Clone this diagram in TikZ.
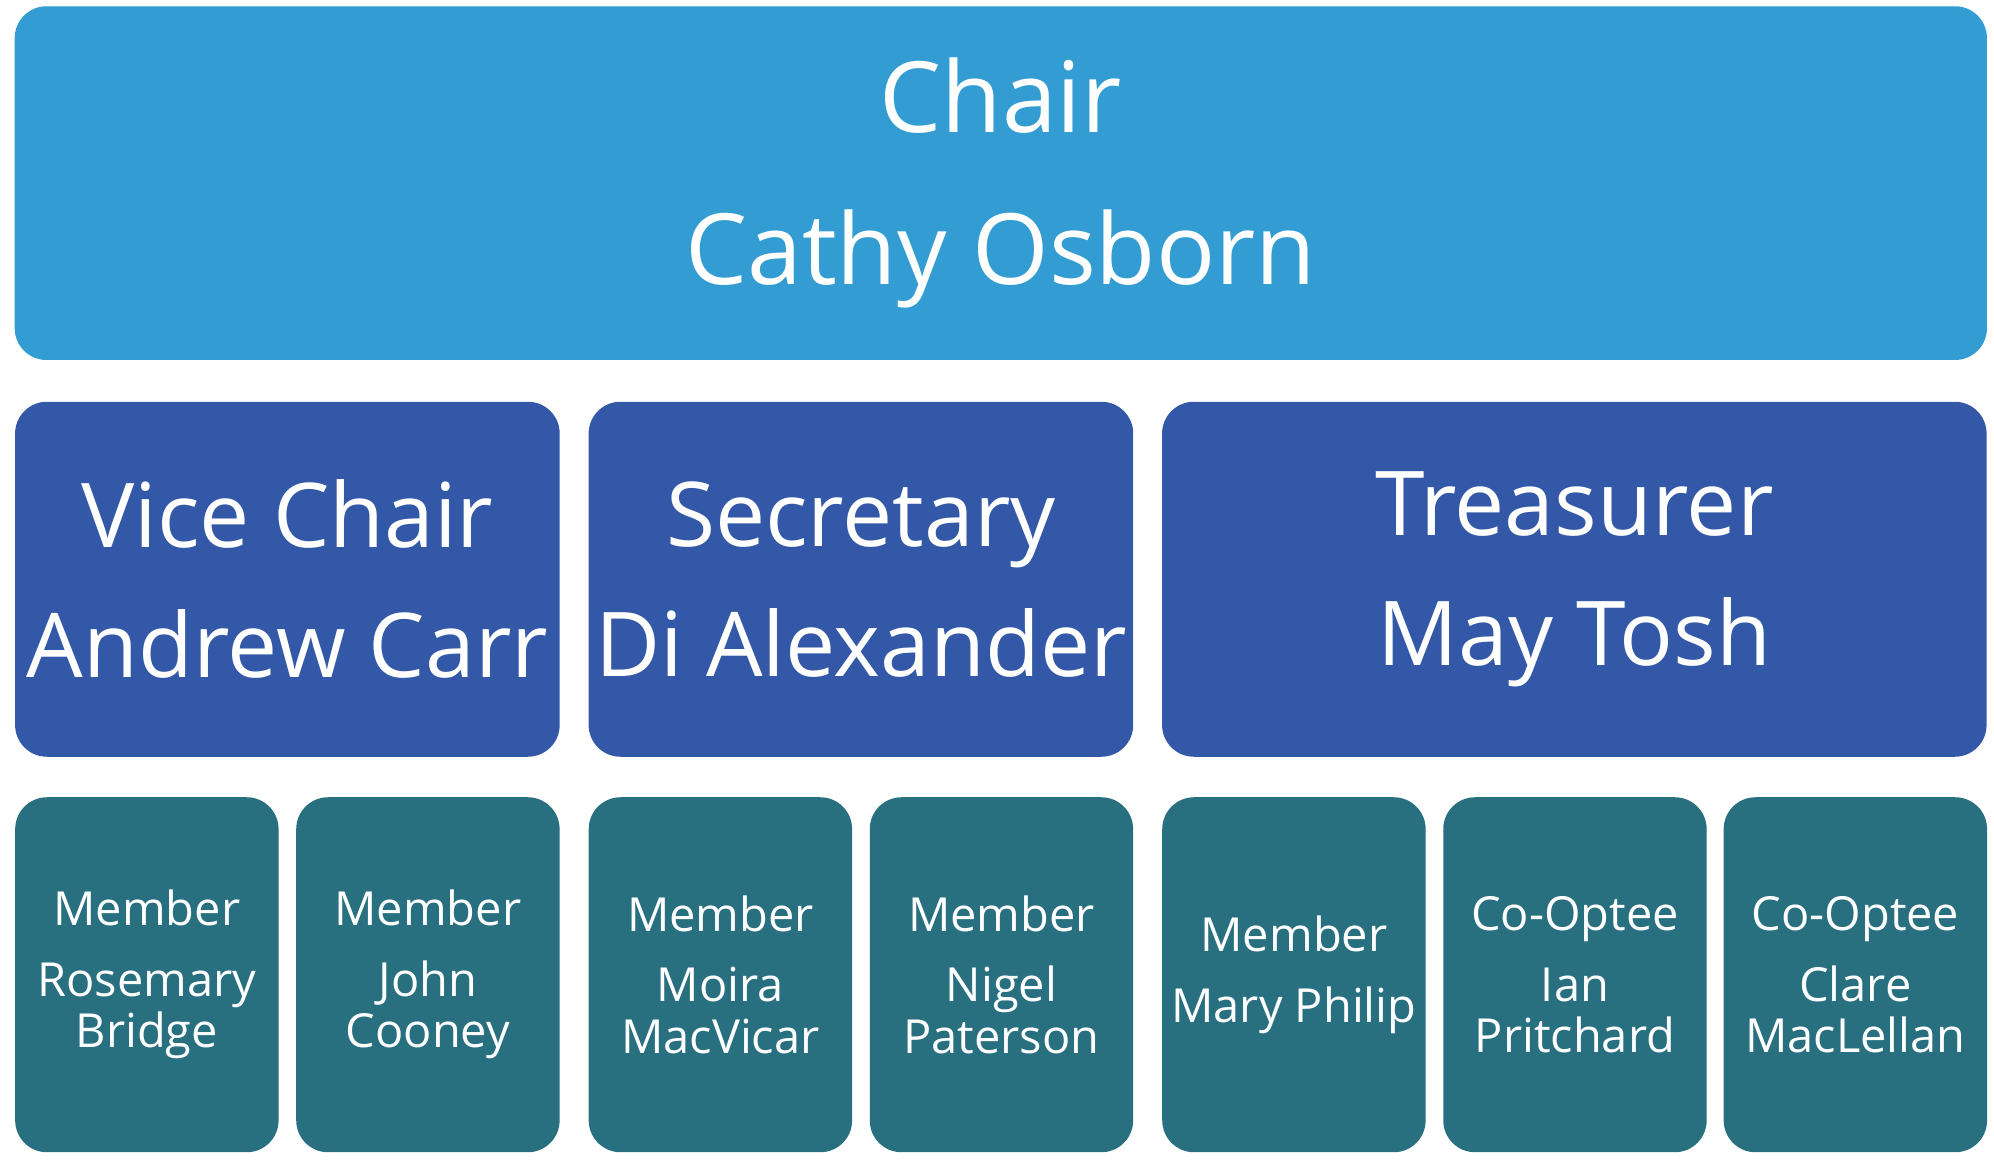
\documentclass[tikz,border=0pt]{standalone}
\usepackage{fontspec}
\setmainfont{Open Sans}
\definecolor{chairblue}{HTML}{339DD3}
\definecolor{officeblue}{HTML}{3358A8}
\definecolor{memberteal}{HTML}{28707F}
\tikzset{
  box/.style={draw=none,rounded corners=0.25cm,text=white,align=center,inner sep=0pt},
  chairbox/.style={box,fill=chairblue,minimum width=15.5cm,minimum height=2.78cm,font=\fontsize{22}{26}\selectfont},
  officebox/.style={box,fill=officeblue,minimum height=2.79cm,font=\fontsize{20}{24}\selectfont},
  memberbox/.style={box,fill=memberteal,minimum width=2.07cm,minimum height=2.79cm,font=\fontsize{10.5}{11.5}\selectfont},
}
\begin{document}
\begin{tikzpicture}[x=0.01cm,y=-0.01cm]
\useasboundingbox (0,0) rectangle (1568,912);

\node[chairbox] (chair) at (787,144) {Chair\\[0.28cm]Cathy Osborn};

\node[officebox,minimum width=4.28cm] (vice) at (226,455.5) {Vice Chair\\[0.18cm]Andrew Carr};
\node[officebox,minimum width=4.28cm] (secretary) at (677,455.5) {Secretary\\[0.18cm]Di Alexander};
\node[officebox,minimum width=6.48cm] (treasurer) at (1238,455.5) {Treasurer\\[0.18cm]May Tosh};

\node[memberbox] (rosemary) at (115.5,766.5) {Member\\[0.15cm]Rosemary\\Bridge};
\node[memberbox] (john) at (336.5,766.5) {Member\\[0.15cm]John\\Cooney};
\node[memberbox] (moira) at (566.5,766.5) {Member\\[0.15cm]Moira\\MacVicar};
\node[memberbox] (nigel) at (787.5,766.5) {Member\\[0.15cm]Nigel\\Paterson};
\node[memberbox] (mary) at (1017.5,766.5) {Member\\[0.15cm]Mary Philip};
\node[memberbox] (ian) at (1238.5,766.5) {Co-Optee\\[0.15cm]Ian\\Pritchard};
\node[memberbox] (clare) at (1459,766.5) {Co-Optee\\[0.15cm]Clare\\MacLellan};
\end{tikzpicture}
\end{document}
